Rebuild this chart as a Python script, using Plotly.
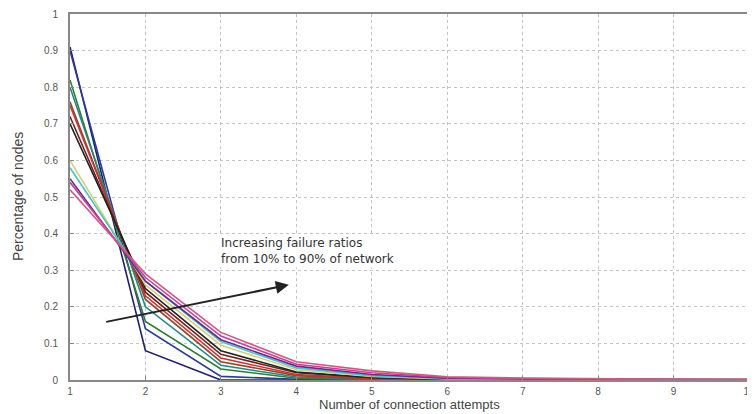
import plotly.graph_objects as go

attempts = [1, 2, 3, 4, 5, 6, 7, 8, 9, 10]

series_values = [
    [0.91, 0.08, 0.000, 0.000, 0.000, 0.000, 0.000, 0.000, 0.000, 0.000],
    [0.90, 0.14, 0.010, 0.002, 0.000, 0.000, 0.000, 0.000, 0.000, 0.000],
    [0.82, 0.16, 0.030, 0.005, 0.001, 0.000, 0.000, 0.000, 0.000, 0.000],
    [0.80, 0.20, 0.040, 0.008, 0.002, 0.001, 0.000, 0.000, 0.000, 0.000],
    [0.76, 0.22, 0.050, 0.012, 0.003, 0.001, 0.000, 0.000, 0.000, 0.000],
    [0.75, 0.23, 0.060, 0.015, 0.004, 0.001, 0.001, 0.000, 0.000, 0.000],
    [0.72, 0.24, 0.070, 0.020, 0.006, 0.002, 0.001, 0.000, 0.000, 0.000],
    [0.70, 0.25, 0.080, 0.022, 0.007, 0.002, 0.001, 0.001, 0.000, 0.000],
    [0.60, 0.26, 0.095, 0.028, 0.010, 0.003, 0.002, 0.001, 0.001, 0.000],
    [0.58, 0.27, 0.105, 0.033, 0.012, 0.004, 0.002, 0.001, 0.001, 0.001],
    [0.55, 0.27, 0.110, 0.038, 0.015, 0.005, 0.003, 0.002, 0.001, 0.001],
    [0.54, 0.28, 0.120, 0.043, 0.020, 0.007, 0.004, 0.002, 0.001, 0.001],
    [0.52, 0.29, 0.130, 0.050, 0.025, 0.009, 0.005, 0.003, 0.002, 0.002],
]

series_colors = [
    "#1f1f6e", "#2a3a9a", "#2e7d32", "#1b8a8a", "#8b4a2b", "#d03030",
    "#7a1f1f", "#222222", "#d8d070", "#40c8c8", "#6a2a8a", "#c040a0", "#e05080",
]

y_ticks = [0, 0.1, 0.2, 0.3, 0.4, 0.5, 0.6, 0.7, 0.8, 0.9, 1]
y_tick_labels = ["0", "0.1", "0.2", "0.3", "0.4", "0.5", "0.6", "0.7", "0.8", "0.9", "1"]

fig = go.Figure()
for vals, col in zip(series_values, series_colors):
    fig.add_trace(go.Scatter(x=attempts, y=vals, mode="lines",
                             line=dict(color=col, width=1.6), showlegend=False))

axis_common = dict(
    showline=True, linecolor="#888888", linewidth=2, mirror=True,
    showgrid=True, gridcolor="#c4c4c4", griddash="dot", gridwidth=1,
    ticks="inside", ticklen=4, tickcolor="#888888", automargin=False,
    zeroline=False, tickfont=dict(family="Liberation Sans", size=10, color="#555555"),
)

fig.update_xaxes(range=[1, 10], tickvals=attempts, ticktext=[str(a) for a in attempts],
                 ticklabelstandoff=1, **axis_common)
fig.update_yaxes(range=[0, 1], tickvals=y_ticks, ticktext=y_tick_labels,
                 ticklabelstandoff=8, **axis_common)

fig.add_annotation(x=0.5, y=0, xref="paper", yref="paper", yshift=-24, yanchor="middle",
                   text="Number of connection attempts", showarrow=False,
                   font=dict(family="Liberation Sans", size=13, color="#444444"))
fig.add_annotation(x=0, y=0.5, xref="paper", yref="paper", xshift=-52, xanchor="center",
                   text="Percentage of nodes", textangle=-90, showarrow=False,
                   font=dict(family="Liberation Sans Narrow, Liberation Sans", size=14, color="#444444"))

fig.add_annotation(x=2.98, y=0.352, xref="x", yref="y", xanchor="left", yanchor="middle",
                   text="Increasing failure ratios<br>from 10% to 90% of network",
                   align="left", showarrow=False, bgcolor="white",
                   font=dict(family="DejaVu Sans", size=12, color="#333333"))

fig.add_annotation(x=3.9, y=0.26, ax=1.46, ay=0.158, xref="x", yref="y", axref="x", ayref="y",
                   text="", showarrow=True, arrowhead=2, arrowsize=1.3, arrowwidth=2,
                   arrowcolor="#222222")

fig.update_layout(
    width=747, height=406,
    margin=dict(l=62, r=6, t=6, b=34),
    paper_bgcolor="white", plot_bgcolor="white",
)

fig.write_html("out.html")
